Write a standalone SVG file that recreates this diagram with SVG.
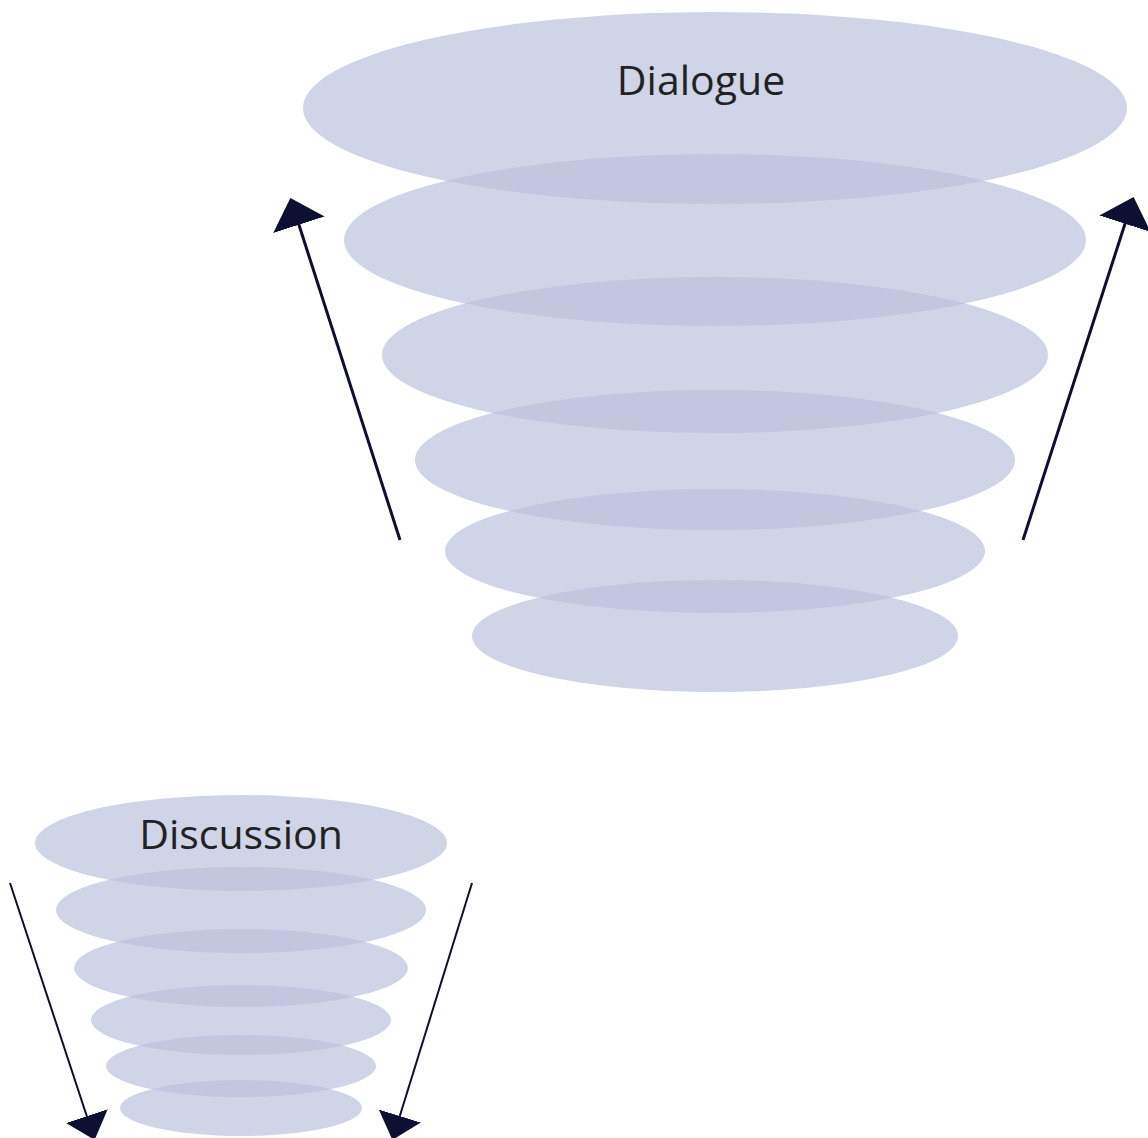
<svg xmlns="http://www.w3.org/2000/svg" width="1148" height="1138" viewBox="0 0 1148 1138">
  <style>
    .disc { fill: #B9C0DB; fill-opacity: 0.69; }
    .label { font-family: "Open Sans", "Liberation Sans", sans-serif; fill: #222222; text-anchor: middle; }
    .arrow { stroke: #0E1033; fill: none; }
  </style>
  <defs>
    <marker id="headLarge" markerUnits="userSpaceOnUse" viewBox="0 0 28 54" markerWidth="28" markerHeight="54" refX="26" refY="27" orient="auto">
      <path d="M0,0 L28,27 L0,54 z" fill="#0E1033"/>
    </marker>
    <marker id="headSmall" markerUnits="userSpaceOnUse" viewBox="0 0 25 44" markerWidth="25" markerHeight="44" refX="23" refY="22" orient="auto">
      <path d="M0,0 L25,22 L0,44 z" fill="#0E1033"/>
    </marker>
  </defs>

  <!-- widening funnel -->
  <g id="dialogue">
    <ellipse class="disc" cx="715" cy="108" rx="412" ry="96"/>
    <ellipse class="disc" cx="715" cy="240" rx="371" ry="86"/>
    <ellipse class="disc" cx="715" cy="355" rx="333" ry="78"/>
    <ellipse class="disc" cx="715" cy="460" rx="300" ry="70"/>
    <ellipse class="disc" cx="715" cy="551" rx="270" ry="62"/>
    <ellipse class="disc" cx="715" cy="636" rx="243" ry="56"/>
    <text class="label" x="701" y="95" font-size="41">Dialogue</text>
  </g>

  <!-- narrowing funnel -->
  <g id="discussion">
    <ellipse class="disc" cx="241" cy="843" rx="206" ry="48"/>
    <ellipse class="disc" cx="241" cy="910" rx="185" ry="43"/>
    <ellipse class="disc" cx="241" cy="968" rx="167" ry="39"/>
    <ellipse class="disc" cx="241" cy="1020" rx="150" ry="35"/>
    <ellipse class="disc" cx="241" cy="1066" rx="135" ry="31"/>
    <ellipse class="disc" cx="241" cy="1108" rx="121" ry="28"/>
    <text class="label" x="241" y="849" font-size="41">Discussion</text>
  </g>

  <g id="connectors">
    <line class="arrow" x1="400" y1="540" x2="291" y2="200" stroke-width="3" marker-end="url(#headLarge)"/>
    <line class="arrow" x1="1023" y1="540" x2="1133" y2="199" stroke-width="3" marker-end="url(#headLarge)"/>
    <line class="arrow" x1="10" y1="883" x2="94" y2="1138" stroke-width="2" marker-end="url(#headSmall)"/>
    <line class="arrow" x1="472" y1="883" x2="393" y2="1138" stroke-width="2" marker-end="url(#headSmall)"/>
  </g>
</svg>
